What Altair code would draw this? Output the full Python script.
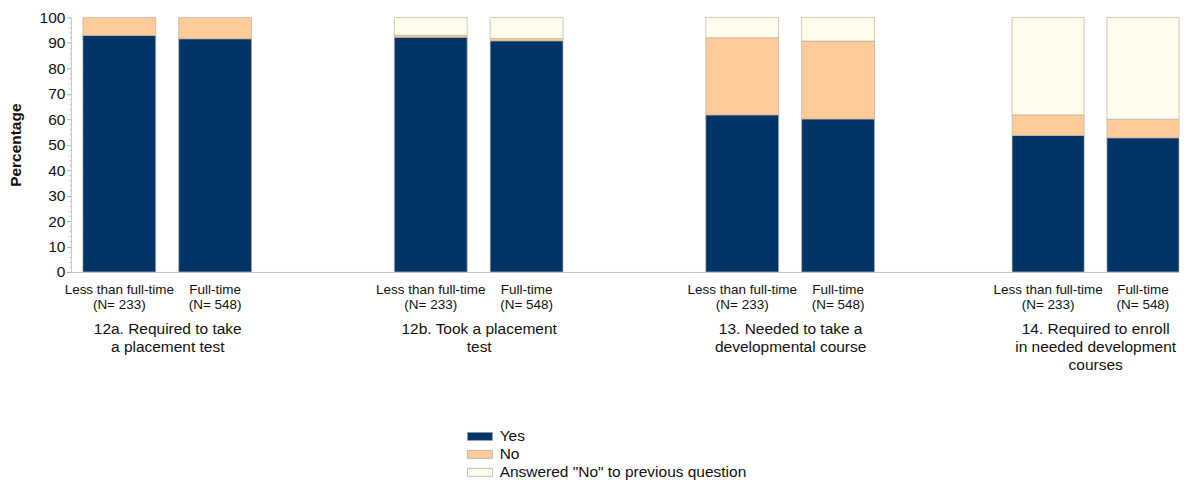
import altair as alt
import pandas as pd

FONT = "Liberation Sans"

question_titles = [
    ["12a. Required to take", "a placement test"],
    ["12b. Took a placement", "test"],
    ["13. Needed to take a", "developmental course"],
    ["14. Required to enroll", "in needed development", "courses"],
]
groups = ["Less than full-time|(N= 233)", "Full-time|(N= 548)"]
responses = ["Yes", "No", 'Answered "No" to previous question']
colors = ["#003366", "#FFCC99", "#FFFDEB"]

yes_vals = [[92.9, 91.6], [92.2, 90.8], [61.7, 60.1], [53.6, 52.7]]
no_vals = [[7.1, 8.4], [0.8, 0.9], [30.3, 30.6], [8.1, 7.3]]
prev_vals = [[0.0, 0.0], [7.0, 8.3], [8.0, 9.3], [38.3, 40.0]]

minor_ticks = list(range(0, 101, 2))


def panel(i, width, pad_outer, align, title_x, show_y):
    rows = []
    for g, grp in enumerate(groups):
        for r, (resp, vals) in enumerate(zip(responses, [yes_vals, no_vals, prev_vals])):
            v = vals[i][g]
            if v > 0:
                rows.append({"group": grp, "response": resp, "value": v, "ord": r})
    df = pd.DataFrame(rows)
    if show_y:
        yaxis = alt.Axis(
            title="Percentage",
            values=minor_ticks,
            labelExpr="datum.value % 10 === 0 ? datum.label : ''",
            labelOverlap=False,
            labelFlush=False,
            labelFontSize=15.5,
            labelColor="#111",
            labelPadding=2,
            tickSize={"condition": {"test": "datum.value % 10 === 0", "value": 4}, "value": 2},
            tickColor={"condition": {"test": "datum.value % 10 === 0", "value": "#aaaaaa"}, "value": "#c8c8c8"},
            domainColor="#c4c4c4",
            grid=False,
            titleFontSize=15.5,
            titleFontWeight="bold",
            titleColor="#111",
            titlePadding=16,
        )
    else:
        yaxis = None
    return alt.Chart(df).mark_bar(stroke="#b9b0a4", strokeWidth=0.7).encode(
        x=alt.X(
            "group:N",
            sort=groups,
            scale=alt.Scale(paddingInner=0.24, paddingOuter=pad_outer, align=align),
            axis=alt.Axis(
                title=question_titles[i],
                labelExpr="split(datum.label, '|')",
                labelAngle=0,
                ticks=False,
                domainColor="#c4c4c4",
                labelFontSize=13.5,
                labelColor="#111",
                labelPadding=11,
                labelLineHeight=15,
                titleFontSize=15.5,
                titleFontWeight="normal",
                titleColor="#111",
                titleLineHeight=18,
                titlePadding=10,
                titleX=title_x,
            ),
        ),
        y=alt.Y("value:Q", stack="zero", scale=alt.Scale(domain=[0, 100], nice=False), axis=yaxis),
        color=alt.Color(
            "response:N",
            scale=alt.Scale(domain=responses, range=colors),
            legend=alt.Legend(
                title=None,
                orient="none",
                legendX=402,
                legendY=412,
                symbolType="M-2.5,-0.8H2.5V0.8H-2.5Z",
                symbolSize=100,
                symbolStrokeColor="#9a9a9a",
                symbolStrokeWidth=0.6,
                symbolOpacity=1,
                labelFontSize=15.5,
                labelColor="#111",
                labelOffset=12,
                labelLimit=500,
                rowPadding=1,
            ),
        ),
        order=alt.Order("ord:Q"),
    ).properties(width=width, height=255)


panels = [
    panel(0, 312, 0.745, 0.0839, 96.5, True),
    panel(1, 312, 0.745, 0.0839, 96.5, False),
    panel(2, 312, 0.745, 0.0839, 96.5, False),
    panel(3, 174, 0.0358, 1.0, 90.0, False),
]

chart = (
    alt.hconcat(*panels, spacing=0, bounds="flush")
    .resolve_scale(x="independent", y="independent", color="shared")
    .properties(padding={"left": 0, "top": 2, "right": 0, "bottom": 0})
    .configure(font=FONT)
    .configure_view(stroke=None)
    .configure_axis(labelFont=FONT, titleFont=FONT)
    .configure_legend(labelFont=FONT)
)

chart.save("out.html", embed_options={"renderer": "svg", "actions": False})
